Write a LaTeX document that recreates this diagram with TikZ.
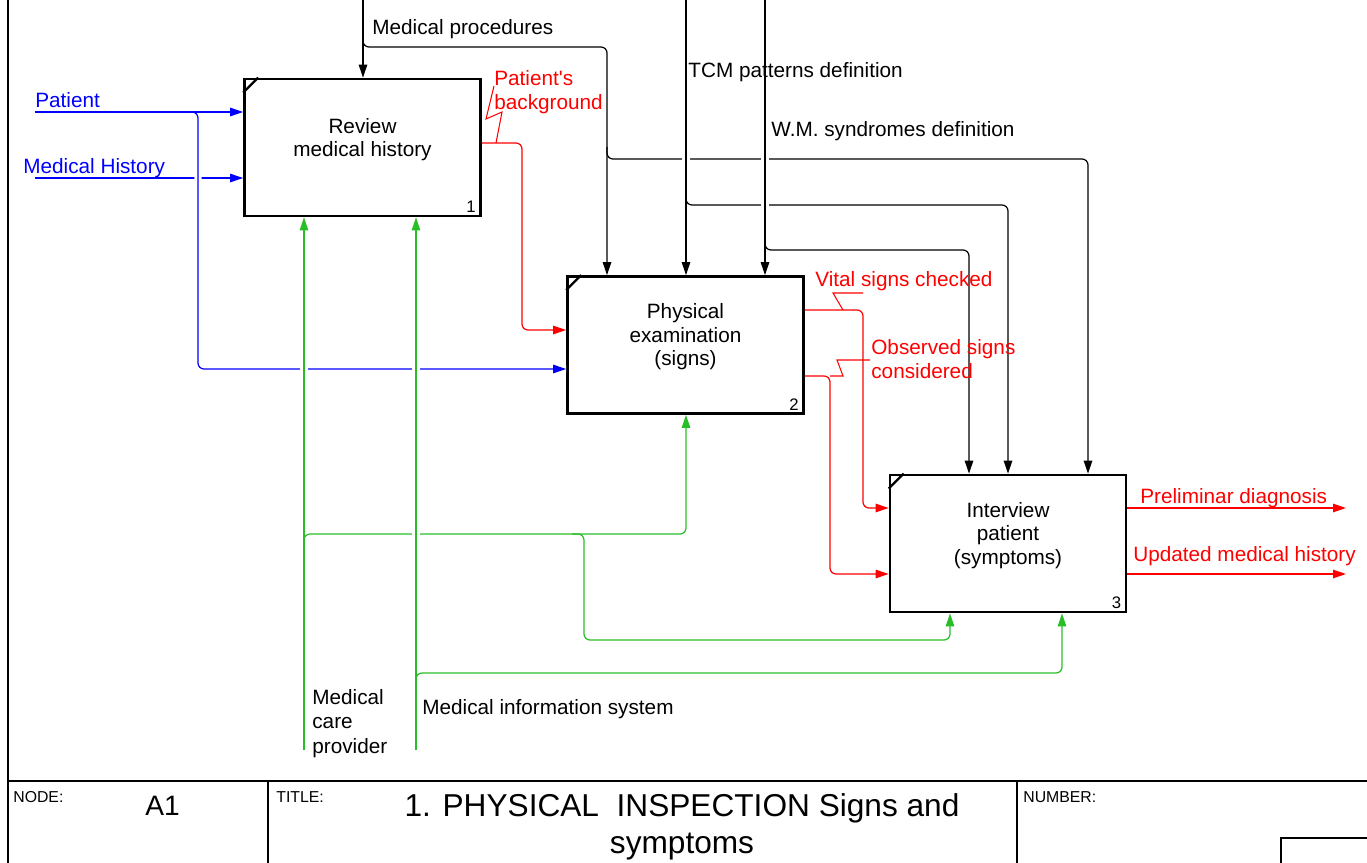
\documentclass[tikz,border=0pt]{standalone}
\usepackage{fontspec}
\setmainfont{Liberation Sans}
\usetikzlibrary{arrows.meta}
\definecolor{idefgreen}{RGB}{40,190,40}

\begin{document}
\begin{tikzpicture}[x=0.2mm,y=-0.2mm,
  activity/.style={draw,line width=1.6pt,minimum width=47.2mm,minimum height=27.4mm,inner sep=0pt},
  acttext/.style={align=center,font=\fontsize{11.8}{13.4}\selectfont},
  boxno/.style={anchor=south east,inner sep=0pt,font=\fontsize{9.5}{11}\selectfont},
  flow/.style={line width=0.7pt,rounded corners=1.2mm,-{Triangle[length=2.6mm,width=1.7mm]}},
  cut/.style={preaction={draw=white,line width=4pt,-}},
  lbl/.style={inner sep=0pt,font=\fontsize{11.8}{13.9}\selectfont},
  foot/.style={inner sep=0pt,font=\fontsize{9}{10}\selectfont}]

\useasboundingbox (0,0) rectangle (1367,863);

\draw[line width=0.6pt] (8,0) -- (8,863);
\draw[line width=0.6pt] (8,781) -- (1367,781);
\draw[line width=0.6pt] (268,781) -- (268,863);
\draw[line width=0.6pt] (1017,781) -- (1017,863);
\draw[line width=0.6pt] (1281,863) |- (1367,838);

\node[activity] (b1) at (362.5,147.5) {};
\node[activity] (b2) at (685.5,345) {};
\node[activity] (b3) at (1008,543.5) {};
\node[acttext] (t1) at ([yshift=1.6mm]b1.center) {Review\\medical history};
\node[acttext] (t2) at ([yshift=1.6mm]b2.center) {Physical\\examination\\(signs)};
\node[acttext] (t3) at ([yshift=1.6mm]b3.center) {Interview\\patient\\(symptoms)};
\node[boxno] (n1) at ([xshift=-1.2mm,yshift=0.9mm]b1.south east) {1};
\node[boxno] (n2) at ([xshift=-1.2mm,yshift=0.9mm]b2.south east) {2};
\node[boxno] (n3) at ([xshift=-1.2mm,yshift=0.9mm]b3.south east) {3};
\draw[line width=1.3pt] ([yshift=-3mm]b1.north west) -- ([xshift=3mm]b1.north west);
\draw[line width=1.3pt] ([yshift=-3mm]b2.north west) -- ([xshift=3mm]b2.north west);
\draw[line width=1.3pt] ([yshift=-3mm]b3.north west) -- ([xshift=3mm]b3.north west);

\coordinate (pat) at (35,112);
\coordinate (mh) at (35,178);
\coordinate (mp) at (363,0);
\coordinate (tcm) at (686,0);
\coordinate (wm) at (765,0);
\coordinate (mcp) at (304,750);
\coordinate (mis) at (416,750);
\coordinate (pd) at (1346,508);
\coordinate (umh) at (1346,574);

\draw[flow,blue] (mh) -- (b1.west |- mh);
\draw[flow,blue,cut] (186,112) -| (198,369) -- (b2.west |- 0,369);
\draw[flow,blue] (pat) -- (b1.west |- pat);

\draw[flow,red] (b1.east |- 0,143) -| (522,330) -- (b2.west |- 0,330);
\draw[flow,red] (b2.east |- 0,310) -| (863,508) -- (b3.west |- 0,508);
\draw[flow,red] (b2.east |- 0,376) -| (830,574) -- (b3.west |- 0,574);
\draw[flow,red] (b3.east |- pd) -- (pd);
\draw[flow,red] (b3.east |- umh) -- (umh);

\draw[flow] (mp) -- (b1.north -| mp);
\draw[flow] (363,35) |- (607,47) -- (b2.north -| 607,0);
\draw[flow] (607,147) |- (1088,159) -- (b3.north -| 1088,0);
\draw[flow,cut] (tcm) -- (b2.north -| tcm);
\draw[flow] (686,193) |- (1008,205) -- (b3.north -| 1008,0);
\draw[flow,cut] (wm) -- (b2.north -| wm);
\draw[flow] (765,238) |- (969,250) -- (b3.north -| 969,0);

\draw[flow,idefgreen,cut] (mcp) -- (b1.south -| mcp);
\draw[flow,idefgreen] (304,546) |- (686,534) -- (b2.south -| 686,0);
\draw[flow,idefgreen] (572,534) -| (584,640) -| (b3.south -| 950,0);
\draw[flow,idefgreen,cut] (mis) -- (b1.south -| mis);
\draw[flow,idefgreen] (416,685) |- (1062,673) -- (b3.south -| 1062,0);

\node[lbl,blue,anchor=base west] (patl) at (35,108) {Patient};
\node[lbl,blue,anchor=base west] (mhl) at (23,174) {Medical History};
\node[lbl,anchor=base west] (mpl) at (372,35) {Medical procedures};
\node[lbl,anchor=base west] (tcml) at (688,78) {TCM patterns definition};
\node[lbl,anchor=base west] (wml) at (771,137) {W.M. syndromes definition};
\node[lbl,red,align=left,anchor=north west] (pbl) at (494,70) {Patient\textquotesingle s\\background};
\node[lbl,red,anchor=base west] (vsl) at (815,287) {Vital signs checked};
\node[lbl,red,align=left,anchor=north west] (osl) at (871,339) {Observed signs\\considered};
\node[lbl,red,anchor=base west] (pdl) at (1140,503) {Preliminar diagnosis};
\node[lbl,red,anchor=base west] (umhl) at (1133,561) {Updated medical history};
\node[lbl,align=left,anchor=north west] (mcpl) at (312,689) {Medical\\care\\provider};
\node[lbl,anchor=base west] (misl) at (422,714) {Medical information system};

\draw[red,line width=0.6pt] (494,86) -- (486,119) -- (502,112) -- (496,143);
\draw[red,line width=0.6pt] (863,293) -- (833,293) -- (843,310);
\draw[red,line width=0.6pt] (870,360) -- (837,360) -- (843,376) -- (830,376);

\node[foot,anchor=base west] (nodel) at (13,802) {NODE:};
\node[anchor=base west,inner sep=0pt,font=\fontsize{16}{18}\selectfont] (nodeid) at (145,815) {A1};
\node[foot,anchor=base west] (titlel) at (276,802) {TITLE:};
\node[align=center,anchor=north,inner sep=0pt,font=\fontsize{18}{21}\selectfont] (title) at (682,793) {1. PHYSICAL~ INSPECTION Signs and\\symptoms};
\node[foot,anchor=base west] (numl) at (1023,802) {NUMBER:};

\end{tikzpicture}
\end{document}
